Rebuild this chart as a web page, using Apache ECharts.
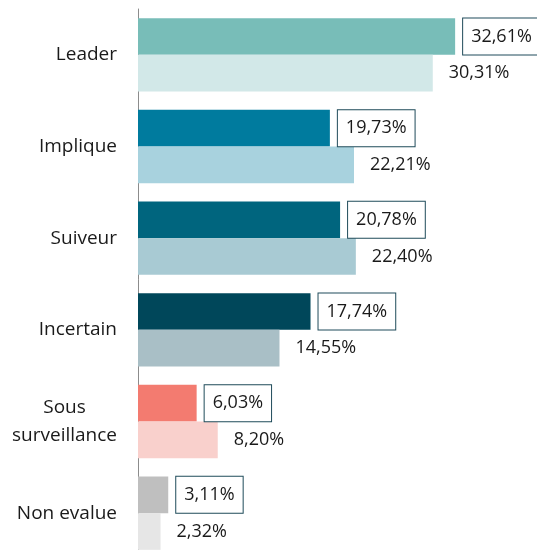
<!DOCTYPE html>
<html>
<head>
<meta charset="utf-8">
<script src="https://cdn.jsdelivr.net/npm/echarts@6/dist/echarts.min.js"></script>
<style>
  html, body { margin: 0; padding: 0; background: #fff; }
  #chart { width: 537px; height: 550px; }
</style>
</head>
<body>
<div id="chart"></div>
<script>
// categories, top to bottom
const categories = ["Leader", "Implique", "Suiveur", "Incertain", "Sous\nsurveillance", "Non evalue"];
// upper bar (boxed label) and lower bar, in %
const topValues = [32.61, 19.73, 20.78, 17.74, 6.03, 3.11];
const bottomValues = [30.31, 22.21, 22.40, 14.55, 8.20, 2.32];

const topColors = ["#78bdb8", "#007b9e", "#00657e", "#00475a", "#f37b70", "#bfbfbf"];
const bottomColors = ["#d2e8e8", "#a8d2de", "#a8cad3", "#a9bfc6", "#f9d0cc", "#e6e6e6"];

const fontFamily = "'Open Sans', sans-serif";

function fmt(v) {
  return v.toFixed(2).replace(".", ",") + "%";
}

let myChart = echarts.init(document.getElementById("chart"));
myChart.setOption({
  animation: false,
  grid: {
    left: 138,
    top: 9,
    width: 389,
    height: 550,
    outerBoundsMode: "none",
    containLabel: false,
  },
  xAxis: {
    type: "value",
    min: 0,
    max: 40,
    show: false,
  },
  yAxis: {
    type: "category",
    inverse: true,
    data: categories,
    axisLine: { lineStyle: { color: "#8c8c8c", width: 1 } },
    axisTick: { length: 6, lineStyle: { color: "#8c8c8c" } },
    axisLabel: {
      margin: 21,
      color: "#1a1a1a",
      fontFamily: fontFamily,
      fontSize: 19,
      formatter: (v) => "{c|" + v.split("\n").join("}\n{c|") + "}",
      rich: {
        c: {
          align: "center",
          fontFamily: fontFamily,
          fontSize: 19,
          lineHeight: 28,
          color: "#1a1a1a",
        },
      },
    },
  },
  series: [
    {
      type: "bar",
      barGap: "0%",
      barCategoryGap: "20%",
      data: topValues.map((v, i) => ({ value: v, itemStyle: { color: topColors[i] } })),
      label: {
        show: true,
        position: "right",
        distance: 8,
        formatter: (p) => fmt(p.value),
        fontFamily: fontFamily,
        fontSize: 18,
        lineHeight: 19,
        color: "#1a1a1a",
        backgroundColor: "#fff",
        borderColor: "#1f4b5a",
        borderWidth: 1,
        padding: [8, 8, 9, 8],
      },
    },
    {
      type: "bar",
      barGap: "0%",
      barCategoryGap: "20%",
      data: bottomValues.map((v, i) => ({ value: v, itemStyle: { color: bottomColors[i] } })),
      label: {
        show: true,
        position: "right",
        distance: 16,
        formatter: (p) => fmt(p.value),
        fontFamily: fontFamily,
        fontSize: 18,
        color: "#1a1a1a",
      },
    },
  ],
});
</script>
</body>
</html>
